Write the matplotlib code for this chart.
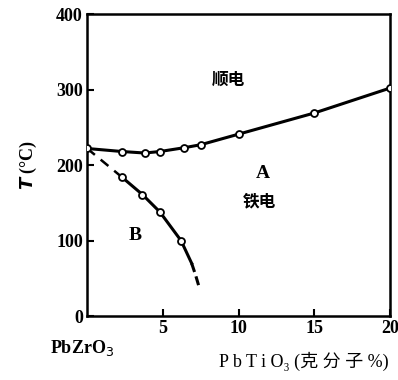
import matplotlib.pyplot as plt

plt.rcParams['font.family'] = ['Liberation Serif', 'DejaVu Serif', 'Noto Sans CJK SC']

# upper curve (paraelectric / ferroelectric boundary)
x_upper = [0, 2.3, 3.8, 4.8, 6.4, 7.5, 10, 15, 20]
t_upper = [222, 218, 216, 218, 223, 227, 241, 269, 302]

# lower curve (A / B boundary)
x_lower = [2.3, 3.65, 4.8, 6.2]
t_lower = [184, 161, 138, 100]
x_lower_dash_start = [0, 2.3]
t_lower_dash_start = [222, 184]
x_lower_tail = [6.2, 6.9]
t_lower_tail = [100, 70]
x_lower_dash_end = [6.9, 7.15, 7.4]
t_lower_dash_end = [70, 55, 38]

fig = plt.figure(figsize=(3.98, 3.8), dpi=100)
ax = fig.add_axes([0.219, 0.168, 0.761, 0.795])

ax.plot(x_upper, t_upper, color='black', lw=2.2, marker='o', ms=5,
        mfc='white', mec='black', mew=1.3, zorder=3)
ax.plot(x_lower_dash_start, t_lower_dash_start, color='black', lw=1.8,
        ls=(0, (4, 3)), zorder=2)
ax.plot(x_lower, t_lower, color='black', lw=2.2, marker='o', ms=5,
        mfc='white', mec='black', mew=1.3, zorder=3)
ax.plot(x_lower_tail, t_lower_tail, color='black', lw=2.2, zorder=2)
ax.plot(x_lower_dash_end, t_lower_dash_end, color='black', lw=2.2,
        ls=(0, (3, 1.5)), zorder=2)

ax.set_xlim(0, 20)
ax.set_ylim(0, 400)
ax.set_xticks([5, 10, 15, 20])
ax.set_yticks([0, 100, 200, 300, 400])
ax.tick_params(direction='in', length=5, width=1.5, labelsize=13,
               top=False, right=False, pad=3)
for lab in ax.get_xticklabels() + ax.get_yticklabels():
    lab.set_fontweight('bold')
for s in ax.spines.values():
    s.set_linewidth(1.8)

ax.text(9.3, 312, '顺电', ha='center', va='center', fontsize=12, fontweight='bold')
ax.text(11.6, 189, 'A', ha='center', va='center', fontsize=14, fontweight='bold')
ax.text(11.4, 151, '铁电', ha='center', va='center', fontsize=12, fontweight='bold')
ax.text(3.2, 107, 'B', ha='center', va='center', fontsize=14, fontweight='bold')

ax.set_ylabel(r'$\boldsymbol{T}$ (°C)', fontsize=13, fontweight='bold')
ax.yaxis.set_label_coords(-0.16, 0.5)

fig.text(0.205, 0.085, 'PbZrO$_3$', ha='center', va='center', fontsize=13,
         fontweight='bold')
fig.text(0.764, 0.048, 'P b T i O₃ (克 分 子 %)', ha='center', va='center',
         fontsize=13)

fig.savefig('out.png', dpi=100)
